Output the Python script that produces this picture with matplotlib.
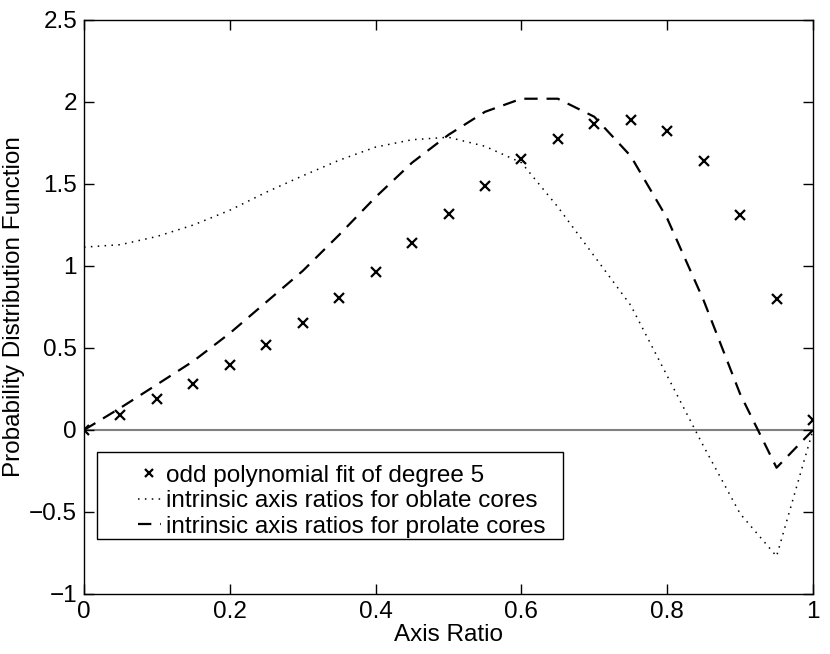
import matplotlib
matplotlib.use("Agg")
import matplotlib.pyplot as plt
from matplotlib.patches import Rectangle

plt.rcParams['font.family'] = ['Liberation Sans', 'DejaVu Sans']

# Axis ratio samples
axis_ratio = [0.00, 0.05, 0.10, 0.15, 0.20, 0.25, 0.30, 0.35, 0.40, 0.45, 0.50,
              0.55, 0.60, 0.65, 0.70, 0.75, 0.80, 0.85, 0.90, 0.95, 1.00]

# odd polynomial fit of degree 5 (crosses)
poly_fit = [0.00, 0.094, 0.186, 0.283, 0.394, 0.516, 0.652, 0.804, 0.966, 1.142, 1.317,
            1.49, 1.65, 1.777, 1.868, 1.889, 1.822, 1.639, 1.311, 0.798, 0.064]

# intrinsic axis ratios for oblate cores (dotted)
oblate = [1.115, 1.13, 1.18, 1.25, 1.34, 1.45, 1.55, 1.645, 1.725, 1.77, 1.785,
          1.73, 1.63, 1.36, 1.06, 0.76, 0.33, -0.10, -0.51, -0.77, 0.00]

# intrinsic axis ratios for prolate cores (dashed)
prolate = [0.00, 0.135, 0.277, 0.42, 0.59, 0.78, 0.97, 1.19, 1.42, 1.63, 1.80,
           1.94, 2.02, 2.02, 1.91, 1.67, 1.29, 0.79, 0.22, -0.23, 0.00]

labels = ["odd polynomial fit of degree 5",
          "intrinsic axis ratios for oblate cores",
          "intrinsic axis ratios for prolate cores"]

xticks = [0, 0.2, 0.4, 0.6, 0.8, 1]
xticklabels = ["0", "0.2", "0.4", "0.6", "0.8", "1"]
yticks = [-1, -0.5, 0, 0.5, 1, 1.5, 2, 2.5]
yticklabels = ["\u22121", "\u22120.5", "0", "0.5", "1", "1.5", "2", "2.5"]

FS = 17.5

fig = plt.figure(figsize=(8.3, 6.54), dpi=100)
ax = fig.add_axes([84/830, 60/654, 729/830, 574/654])

ax.axhline(0, color="#808080", lw=1.5, zorder=1)
ax.plot(axis_ratio, poly_fit, linestyle="none", marker="x", color="black",
        markersize=7, markeredgewidth=1.6, label=labels[0], zorder=3)
ax.plot(axis_ratio, oblate, linestyle=(0, (1, 3.5)), color="black", lw=1.1,
        label=labels[1], zorder=2)
ax.plot(axis_ratio, prolate, linestyle=(0, (6, 4)), color="black", lw=1.6,
        label=labels[2], zorder=2)

ax.set_xlim(0, 1)
ax.set_ylim(-1, 2.5)
ax.set_xticks(xticks)
ax.set_xticklabels(xticklabels)
ax.set_yticks(yticks)
ax.set_yticklabels(yticklabels)
ax.tick_params(direction="in", length=7, width=1, top=True, right=True,
               labelsize=FS, pad=5)
for s in ax.spines.values():
    s.set_linewidth(1.0)

ax.set_xlabel("Axis Ratio", fontsize=FS, labelpad=1)
ax.set_ylabel("Probability Distribution Function", fontsize=FS, labelpad=3)

# legend frame drawn separately (MATLAB-style wide left padding)
ax.add_patch(Rectangle((0.0174, 0.0958), 0.6396, 0.1522, transform=ax.transAxes,
                       facecolor="white", edgecolor="black", lw=1.0, zorder=4))
leg = ax.legend(loc="center left", bbox_to_anchor=(0.074, 0.1615),
                fontsize=FS, frameon=False, borderpad=0, markerscale=0.75,
                labelspacing=0.15, handlelength=0.95, handletextpad=0.2,
                borderaxespad=0)
leg.set_zorder(5)

fig.savefig("out.png", dpi=100)
